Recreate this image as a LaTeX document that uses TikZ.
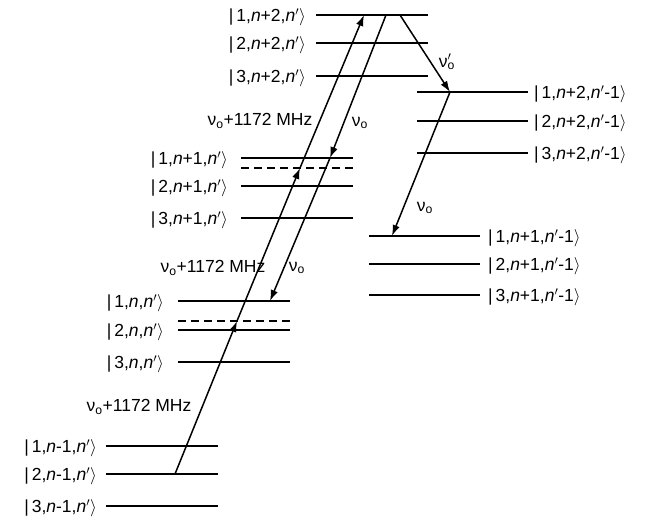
\documentclass[tikz,border=0pt]{standalone}
\usepackage{fontspec}
\setmainfont{Liberation Sans}
\usetikzlibrary{arrows.meta}
\newcommand{\kt}[3]{\textbar\,#1,#2,#3$\big\rangle$}
\newcommand{\nn}{\textit{n}}
\newcommand{\np}{\textit{n}$'$}
\newcommand{\nuo}{ν\textsubscript{o}}
\newcommand{\nuop}{ν\rlap{\textsuperscript{$\prime$}}\textsubscript{o}}
\begin{document}
\begin{tikzpicture}[x=1pt,y=-1pt,
  lev/.style={line width=1.9pt},
  dlev/.style={line width=1.6pt, dash pattern=on 8pt off 5pt},
  arr/.style={line width=1.5pt,-{Latex[length=11pt,width=7.5pt]}},
  lbl/.style={font=\fontsize{17.5}{20}\selectfont, inner sep=0pt},
  ll/.style={lbl, anchor=east},
  rl/.style={lbl, anchor=west}]
\useasboundingbox (0,0) rectangle (649,520);
% column A: n+2, n'
\draw[lev] (316,15) -- (428,15);
\draw[lev] (316,43) -- (428,43);
\draw[lev] (316,76) -- (428,76);
\node[ll] (a1) at (306,17) {\kt{1}{\nn+2}{\np}};
\node[ll] (a2) at (306,45) {\kt{2}{\nn+2}{\np}};
\node[ll] (a3) at (306,78) {\kt{3}{\nn+2}{\np}};
% column B: n+1, n'
\draw[lev] (241,158) -- (353,158);
\draw[dlev] (241,168) -- (353,168);
\draw[lev] (241,186) -- (353,186);
\draw[lev] (241,218) -- (353,218);
\node[ll] (b1) at (228,160) {\kt{1}{\nn+1}{\np}};
\node[ll] (b2) at (228,188) {\kt{2}{\nn+1}{\np}};
\node[ll] (b3) at (228,220) {\kt{3}{\nn+1}{\np}};
% column C: n, n'
\draw[lev] (178,301) -- (290,301);
\draw[dlev] (178,321) -- (290,321);
\draw[lev] (178,330) -- (290,330);
\draw[lev] (178,362) -- (290,362);
\node[ll] (c1) at (164,303) {\kt{1}{\nn}{\np}};
\node[ll] (c2) at (164,332) {\kt{2}{\nn}{\np}};
\node[ll] (c3) at (164,364) {\kt{3}{\nn}{\np}};
% column D: n-1, n'
\draw[lev] (106,446) -- (218,446);
\draw[lev] (106,474) -- (218,474);
\draw[lev] (106,506) -- (218,506);
\node[ll] (d1l) at (97,448) {\kt{1}{\nn-1}{\np}};
\node[ll] (d2l) at (97,476) {\kt{2}{\nn-1}{\np}};
\node[ll] (d3l) at (97,508) {\kt{3}{\nn-1}{\np}};
% column E: n+2, n'-1
\draw[lev] (417,92) -- (528,92);
\draw[lev] (417,121) -- (528,121);
\draw[lev] (417,153) -- (528,153);
\node[rl] (e1) at (534,94) {\kt{1}{\nn+2}{\np-1}};
\node[rl] (e2) at (534,123) {\kt{2}{\nn+2}{\np-1}};
\node[rl] (e3) at (534,155) {\kt{3}{\nn+2}{\np-1}};
% column F: n+1, n'-1
\draw[lev] (369,236) -- (480,236);
\draw[lev] (369,264) -- (480,264);
\draw[lev] (369,295) -- (480,295);
\node[rl] (f1) at (488,238) {\kt{1}{\nn+1}{\np-1}};
\node[rl] (f2) at (488,266) {\kt{2}{\nn+1}{\np-1}};
\node[rl] (f3) at (488,297) {\kt{3}{\nn+1}{\np-1}};
% transition points
\coordinate (u0) at (175,474);
\coordinate (u1) at (237,321);
\coordinate (u2) at (300,168);
\coordinate (u3) at (364,15);
\coordinate (w0) at (386,15);
\coordinate (w1) at (330,158);
\coordinate (w2) at (270,301);
\coordinate (p0) at (400,15);
\coordinate (p1) at (450,92);
\coordinate (p2) at (392,236);
\draw[arr] (u0) -- (u1);
\draw[arr] (u1) -- (u2);
\draw[arr] (u2) -- (u3);
\draw[arr] (w0) -- (w1);
\draw[arr] (w1) -- (w2);
\draw[arr] (p0) -- (p1);
\draw[arr] (p1) -- (p2);
% transition labels
\node[lbl] (t1) at (260,121) {\nuo+1172 MHz};
\node[lbl] (t2) at (213,268) {\nuo+1172 MHz};
\node[lbl] (t3) at (139,407) {\nuo+1172 MHz};
\node[lbl] (s1) at (360,123) {\nuo};
\node[lbl] (s2) at (297,268) {\nuo};
\node[lbl] (s3) at (425,208) {\nuo};
\node[lbl] (s4) at (447,62) {\nuop};
\end{tikzpicture}
\end{document}
